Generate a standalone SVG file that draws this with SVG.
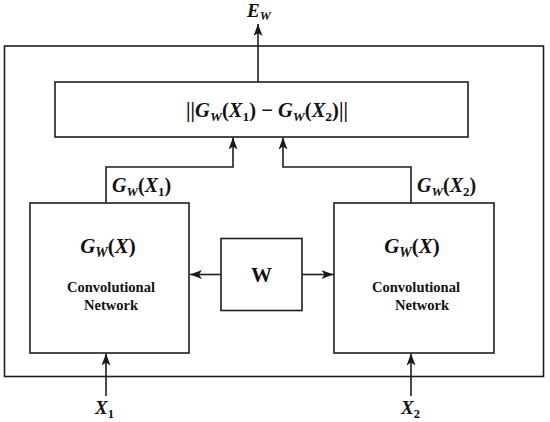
<svg xmlns="http://www.w3.org/2000/svg" width="550" height="422" viewBox="0 0 550 422">
<defs>
<marker id="arr" markerUnits="userSpaceOnUse" markerWidth="13" markerHeight="9" refX="12" refY="4.5" orient="auto">
<path d="M0,0 L12,4.5 L0,9 L3,4.5 z" fill="#1a1a1a"/>
</marker>
<style>
.box{fill:#fff;stroke:#1e1e1e;stroke-width:1.6}
.con{fill:none;stroke:#1e1e1e;stroke-width:1.6}
.m{font-family:"Liberation Serif",serif;font-weight:bold;fill:#111}
.i{font-style:italic}
.lbl{font-family:"Liberation Serif",serif;font-weight:bold;font-size:14.5px;fill:#111;text-anchor:middle}
</style>
</defs>
<rect width="550" height="422" fill="#fff"/>
<g id="outer"><rect class="box" x="4.5" y="46" width="539" height="330.5" fill="none"/></g>
<g id="connectors">
<line class="con" x1="258" y1="82" x2="258" y2="24" marker-end="url(#arr)"/>
<path class="con" d="M106,203 V167 H233 V137.5" marker-end="url(#arr)"/>
<path class="con" d="M411,203 V167 H283 V137.5" marker-end="url(#arr)"/>
<line class="con" x1="221" y1="274.5" x2="190" y2="274.5" marker-end="url(#arr)"/>
<line class="con" x1="302" y1="274.5" x2="333.5" y2="274.5" marker-end="url(#arr)"/>
<line class="con" x1="106" y1="396" x2="106" y2="353.5" marker-end="url(#arr)"/>
<line class="con" x1="411" y1="396" x2="411" y2="353.5" marker-end="url(#arr)"/>
</g>
<g id="ew"><text class="m" x="259" y="17" text-anchor="middle" font-size="19"><tspan class="i">E</tspan><tspan class="i" font-size="12.5" dy="3">W</tspan></text></g>
<g id="distance">
<rect class="box" x="55" y="82" width="413" height="55"/>
<text class="m" x="267" y="117" text-anchor="middle" font-size="20.5">||<tspan class="i">G</tspan><tspan class="i" font-size="13.5" dy="4">W</tspan><tspan dy="-4">(</tspan><tspan class="i">X</tspan><tspan font-size="13.5" dy="4">1</tspan><tspan dy="-4">) − </tspan><tspan class="i">G</tspan><tspan class="i" font-size="13.5" dy="4">W</tspan><tspan dy="-4">(</tspan><tspan class="i">X</tspan><tspan font-size="13.5" dy="4">2</tspan><tspan dy="-4">)||</tspan></text>
</g>
<g id="label-g1"><text class="m" x="112" y="192" font-size="20"><tspan class="i">G</tspan><tspan class="i" font-size="13" dy="4">W</tspan><tspan dy="-4">(</tspan><tspan class="i">X</tspan><tspan font-size="13" dy="4">1</tspan><tspan dy="-4">)</tspan></text></g>
<g id="label-g2"><text class="m" x="417" y="192" font-size="20"><tspan class="i">G</tspan><tspan class="i" font-size="13" dy="4">W</tspan><tspan dy="-4">(</tspan><tspan class="i">X</tspan><tspan font-size="13" dy="4">2</tspan><tspan dy="-4">)</tspan></text></g>
<g id="net1">
<rect class="box" x="30" y="203" width="159" height="150"/>
<text class="m" x="108" y="253" text-anchor="middle" font-size="21"><tspan class="i">G</tspan><tspan class="i" font-size="14" dy="4">W</tspan><tspan dy="-4">(</tspan><tspan class="i">X</tspan>)</text>
<text class="lbl" x="111" y="292">Convolutional</text>
<text class="lbl" x="111" y="310">Network</text>
</g>
<g id="w">
<rect class="box" x="221" y="238.5" width="81" height="72"/>
<text class="m" x="261.5" y="282" text-anchor="middle" font-size="21">W</text>
</g>
<g id="net2">
<rect class="box" x="334" y="203" width="160" height="150"/>
<text class="m" x="412" y="253" text-anchor="middle" font-size="21"><tspan class="i">G</tspan><tspan class="i" font-size="14" dy="4">W</tspan><tspan dy="-4">(</tspan><tspan class="i">X</tspan>)</text>
<text class="lbl" x="416" y="292">Convolutional</text>
<text class="lbl" x="422" y="310">Network</text>
</g>
<g id="x1"><text class="m" x="95" y="414" font-size="19"><tspan class="i">X</tspan><tspan font-size="12.5" dy="4">1</tspan></text></g>
<g id="x2"><text class="m" x="401" y="414" font-size="19"><tspan class="i">X</tspan><tspan font-size="12.5" dy="4">2</tspan></text></g>
</svg>
